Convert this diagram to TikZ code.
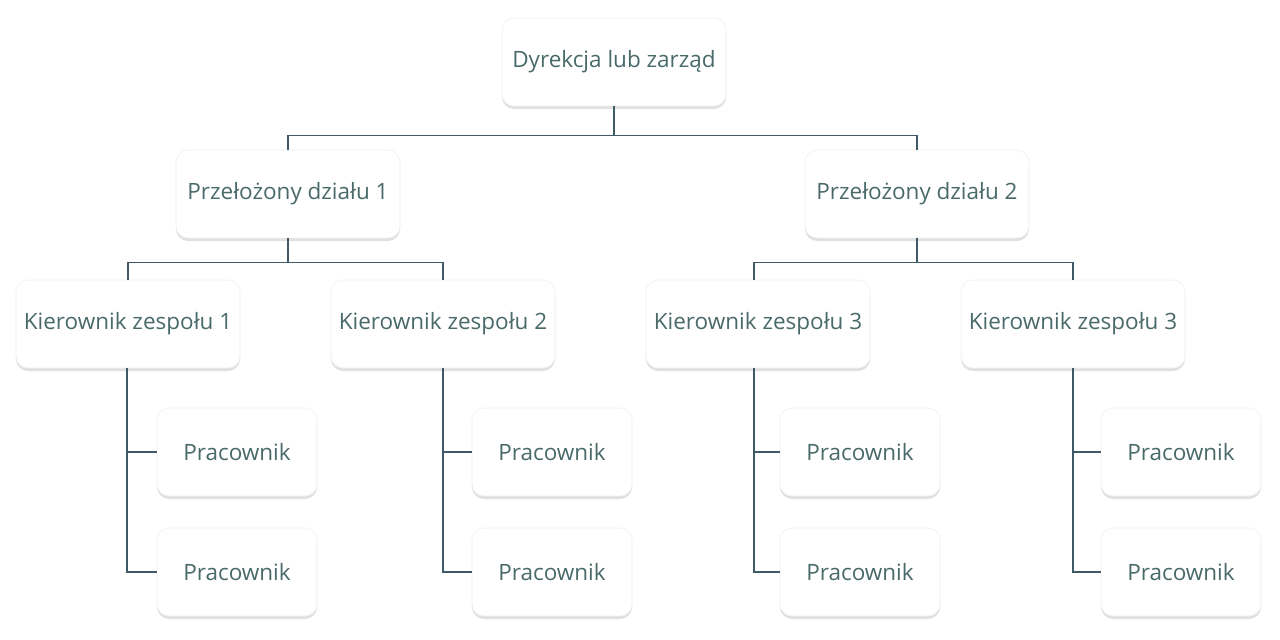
\documentclass[tikz,border=0pt]{standalone}
\usepackage{fontspec}
\setmainfont{Open Sans}
\usetikzlibrary{shadows}
\definecolor{txt}{HTML}{4A6A6A}
\definecolor{ln}{HTML}{3D5A66}
\begin{document}
\begin{tikzpicture}[x=1pt,y=-1pt,
 box/.style={draw=black!6,line width=0.6pt,fill=white,rounded corners=12pt,minimum height=88pt,
  text=txt,font=\fontsize{22.5}{26}\selectfont,
  drop shadow={shadow xshift=0pt,shadow yshift=-3pt,opacity=0.12,fill=black}},
 big/.style={box,minimum width=224pt},
 small/.style={box,minimum width=160pt},
 con/.style={draw=ln,line width=1.4pt}]
\useasboundingbox (0,0) rectangle (1280,640);
\fill[white] (0,0) rectangle (1280,640);
\node[big] (d) at (614,62) {Dyrekcja lub zarząd};
\node[big] (p1) at (288,194) {Przełożony działu 1};
\node[big] (p2) at (917,194) {Przełożony działu 2};
\node[big] (k1) at (128,324) {Kierownik zespołu 1};
\node[big] (k2) at (443,324) {Kierownik zespołu 2};
\node[big] (k3) at (758,324) {Kierownik zespołu 3};
\node[big] (k4) at (1073,324) {Kierownik zespołu 3};
\node[small] (w1a) at (237,452) {Pracownik};
\node[small] (w1b) at (237,572) {Pracownik};
\node[small] (w2a) at (552,452) {Pracownik};
\node[small] (w2b) at (552,572) {Pracownik};
\node[small] (w3a) at (860,452) {Pracownik};
\node[small] (w3b) at (860,572) {Pracownik};
\node[small] (w4a) at (1181,452) {Pracownik};
\node[small] (w4b) at (1181,572) {Pracownik};
\draw[con] (d.south) -- ++(0,29) -| (p1.north);
\draw[con] (d.south) -- ++(0,29) -| (p2.north);
\draw[con] (p1.south) -- ++(0,24) -| (k1.north);
\draw[con] (p1.south) -- ++(0,24) -| (k2.north);
\draw[con] (p2.south) -- ++(0,24) -| ([xshift=-163pt]p2.south |- k3.north);
\draw[con] (p2.south) -- ++(0,24) -| (k4.north);
\foreach \k/\a/\b/\dx in {k1/w1a/w1b/-1,k2/w2a/w2b/0,k3/w3a/w3b/-4,k4/w4a/w4b/0}{
 \draw[con] ([xshift=\dx pt]\k.south) |- (\b.west);
 \draw[con] ([xshift=\dx pt]\k.south |- \a.west) -- (\a.west);
}
\end{tikzpicture}
\end{document}
